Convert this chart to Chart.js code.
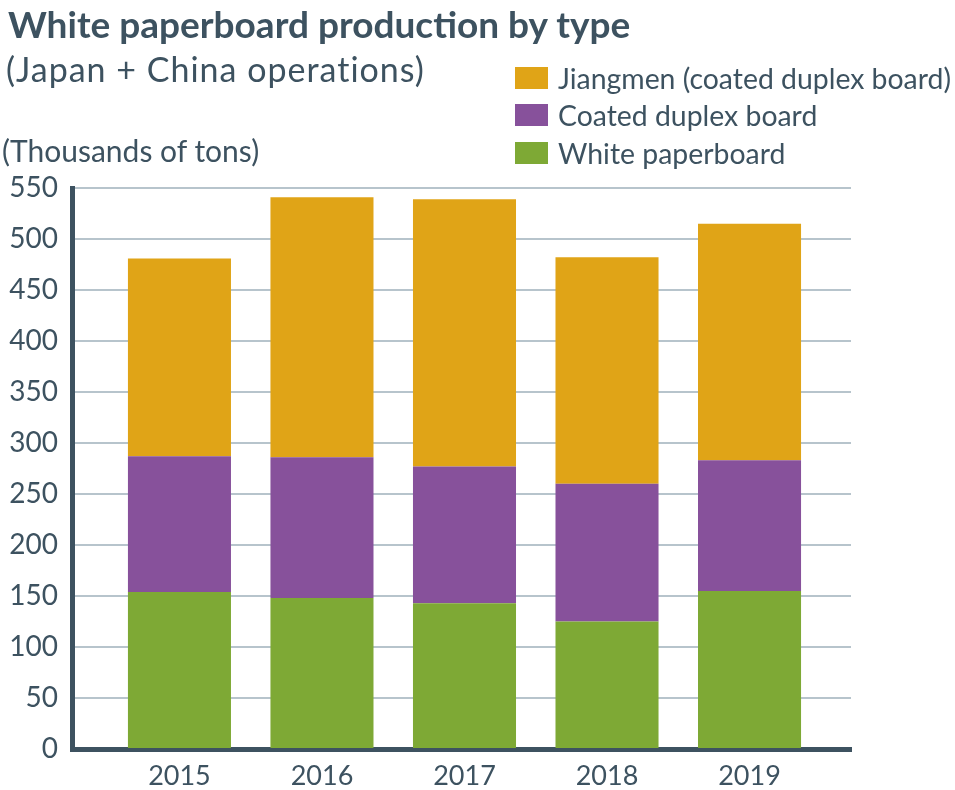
<!DOCTYPE html>
<html>
<head>
<meta charset="utf-8">
<script src="https://cdn.jsdelivr.net/npm/chart.js@4.4.1/dist/chart.umd.min.js"></script>
<style>
  body { margin: 0; background: #fff; font-family: Lato, sans-serif; color: #3d5260; }
  #wrap { position: relative; width: 955px; height: 790px; overflow: hidden; }
  #chart { position: absolute; left: 0; top: 0; }
  .txt { position: absolute; white-space: nowrap; }
  #title { left: 8px; top: 1px; font-size: 37px; font-weight: 700; }
  #sub { left: 6px; top: 48px; font-size: 34px; letter-spacing: 1px; }
  #unit { left: 2px; top: 132px; font-size: 30px; }
  #legend { position: absolute; left: 515px; top: 59px; }
  .item { display: flex; align-items: center; height: 37.5px; font-size: 28.4px; white-space: nowrap; }
  .box { width: 33px; height: 22px; margin-right: 10px; }
</style>
</head>
<body>
<div id="wrap">
  <canvas id="chart" width="955" height="790"></canvas>
  <div class="txt" id="title">White paperboard production by type</div>
  <div class="txt" id="sub">(Japan + China operations)</div>
  <div class="txt" id="unit">(Thousands of tons)</div>
  <div id="legend"></div>
</div>
<script>
// datos
const years = ['2015', '2016', '2017', '2018', '2019'];
const whitePaperboard = [154, 148, 143, 125, 155];
const coatedDuplex = [133, 138, 134, 135, 128];
const jiangmen = [194, 255, 262, 222, 232];
const yTicks = [0, 50, 100, 150, 200, 250, 300, 350, 400, 450, 500, 550];

const ink = '#3d5260';
Chart.defaults.font.family = 'Lato, sans-serif';
Chart.defaults.font.size = 28;
Chart.defaults.color = ink;

function points(values) {
    return values.map((v, i) => ({ x: Number(years[i]), y: v }));
}

const ctx = document.getElementById('chart');

const chart = new Chart(ctx, {
    type: 'bar',
    data: {
        datasets: [
            { label: 'White paperboard', data: points(whitePaperboard), backgroundColor: '#7ea935' },
            { label: 'Coated duplex board', data: points(coatedDuplex), backgroundColor: '#87519b' },
            { label: 'Jiangmen (coated duplex board)', data: points(jiangmen), backgroundColor: '#e0a417' }
        ]
    },
    options: {
        responsive: false,
        animation: false,
        layout: { padding: { top: 188, right: 104, left: 0, bottom: 0 } },
        datasets: {
            bar: {
                categoryPercentage: 1,
                barPercentage: 0.723,
                borderWidth: 0
            }
        },
        plugins: {
            legend: { display: false },
            tooltip: { enabled: false }
        },
        scales: {
            x: {
                type: 'linear',
                stacked: true,
                offset: false,
                min: 2014.246,
                max: 2019.712,
                z: 1,
                grid: { display: false, drawTicks: false, offset: false },
                border: { display: true, color: ink, width: 5 },
                afterFit: (scale) => { scale.height = 41; },
                ticks: {
                    stepSize: 1,
                    includeBounds: false,
                    padding: 11,
                    font: { size: 27 },
                    callback: (v) => years.includes(String(v)) ? String(v) : ''
                }
            },
            y: {
                stacked: true,
                min: 0,
                max: 550,
                grid: { color: '#b7c4cc', lineWidth: 2, drawTicks: false },
                border: { display: true, color: ink, width: 5 },
                afterFit: (scale) => { scale.width = 72; },
                afterBuildTicks: (scale) => { scale.ticks = yTicks.map(v => ({ value: v })); },
                ticks: { padding: 14 }
            }
        }
    }
});

// leyenda
const legend = document.getElementById('legend');
chart.data.datasets.slice().reverse().forEach((ds) => {
    const item = document.createElement('div');
    item.className = 'item';
    item.innerHTML = '<span class="box" style="background:' + ds.backgroundColor + '"></span>' + ds.label;
    legend.appendChild(item);
});
</script>
</body>
</html>
